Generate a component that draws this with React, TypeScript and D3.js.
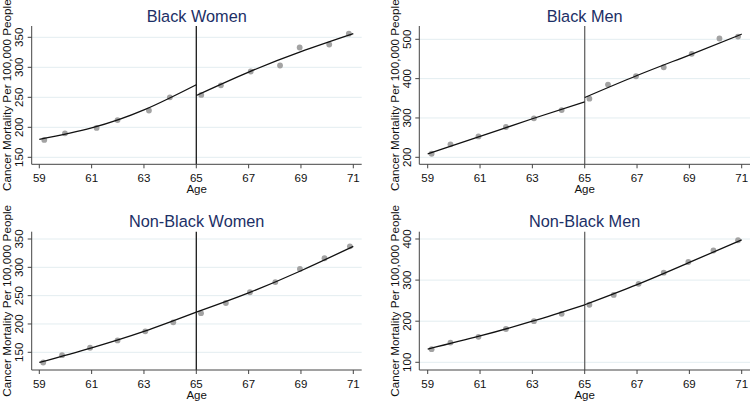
import React from "react";
import * as d3 from "d3";

// ---------- Data ----------
const xTicks = [59, 61, 63, 65, 67, 69, 71];
const cutoffAge = 65;

// Black Women
const bwAges = [59.19, 59.98, 61.19, 61.99, 63.19, 63.99, 65.19, 65.94, 67.08, 68.2, 68.95, 70.08, 70.83];
const bwRates = [179, 190, 199, 212, 228, 250, 254, 270, 293, 303, 333, 338, 356];
const bwFitLeft = [180, 199, 229, 271];
const bwFitRight = [253, 292, 326, 356];
const bwTicks = [150, 200, 250, 300, 350];

// Black Men
const bmAges = [59.15, 59.87, 60.94, 61.99, 63.06, 64.12, 65.18, 65.89, 66.96, 68.02, 69.09, 70.15, 70.86];
const bmRates = [209, 233, 253, 277, 299, 320, 349, 385, 406, 429, 463, 502, 507];
const bmFitLeft = [209, 253, 298, 341];
const bmFitRight = [352, 408, 460, 513];
const bmTicks = [200, 300, 400, 500];

// Non-Black Women
const nbwAges = [59.15, 59.87, 60.94, 61.99, 63.05, 64.12, 65.18, 66.13, 67.05, 68.02, 68.96, 69.9, 70.87];
const nbwRates = [132, 145, 158, 171, 187, 203, 219, 237, 256, 274, 297, 316, 337];
const nbwFitLeft = [132, 158, 187, 221];
const nbwFitRight = [221, 255, 294, 337];
const nbwTicks = [150, 200, 250, 300, 350];

// Non-Black Men
const nbmAges = [59.15, 59.87, 60.94, 61.99, 63.06, 64.12, 65.18, 66.11, 67.06, 68.02, 68.96, 69.92, 70.86];
const nbmRates = [132, 148, 162, 181, 200, 218, 240, 264, 291, 318, 344, 372, 397];
const nbmFitLeft = [132, 164, 200, 240];
const nbmFitRight = [240, 289, 343, 398];
const nbmTicks = [100, 200, 300, 400];

const fitAgesLeft = [59, 61, 63, 65];
const fitAgesRight = [65, 67, 69, 71];

const titles = ["Black Women", "Black Men", "Non-Black Women", "Non-Black Men"];
const yTitle = "Cancer Mortality Per 100,000 People";
const xTitle = "Age";

// ---------- Layout ----------
const FONT = "'Liberation Sans', Arial, Helvetica, sans-serif";
const cols = [
  { axisX: 31.7, x59: 39.3, x71: 353.3, right: 361.7 },
  { axisX: 419.3, x59: 427.7, x71: 741.7, right: 750 },
];
const rows = [
  { top: 26, axisY: 164.3 },
  { top: 231.7, axisY: 370 },
];
// pixel positions of the lowest and highest y ticks for each panel
const yTickPix = [
  [157.3, 37.3],
  [157.3, 39.3],
  [352.3, 239],
  [362.3, 239],
];

const panels = [
  { ages: bwAges, rates: bwRates, left: bwFitLeft, right: bwFitRight, ticks: bwTicks, col: 0, row: 0, vColor: "#1a1a1a" },
  { ages: bmAges, rates: bmRates, left: bmFitLeft, right: bmFitRight, ticks: bmTicks, col: 1, row: 0, vColor: "#666666" },
  { ages: nbwAges, rates: nbwRates, left: nbwFitLeft, right: nbwFitRight, ticks: nbwTicks, col: 0, row: 1, vColor: "#1a1a1a" },
  { ages: nbmAges, rates: nbmRates, left: nbmFitLeft, right: nbmFitRight, ticks: nbmTicks, col: 1, row: 1, vColor: "#666666" },
];

function Panel({ p, i }: { p: any; i: number }) {
  const c = cols[p.col];
  const r = rows[p.row];
  const x = d3.scaleLinear().domain([59, 71]).range([c.x59, c.x71]);
  const t = p.ticks;
  const y = d3
    .scaleLinear()
    .domain([t[0], t[t.length - 1]])
    .range([yTickPix[i][0], yTickPix[i][1]]);
  const line = d3
    .line<[number, number]>()
    .x((d) => x(d[0]))
    .y((d) => y(d[1]))
    .curve(d3.curveNatural);
  const leftPts: [number, number][] = fitAgesLeft.map((a, k) => [a, p.left[k]]);
  const rightPts: [number, number][] = fitAgesRight.map((a, k) => [a, p.right[k]]);
  const midX = (c.axisX + c.right) / 2;
  const midY = (r.top + r.axisY) / 2;
  return (
    <g>
      {/* grid */}
      {t.map((v: number) => (
        <line key={"g" + v} x1={c.axisX} x2={c.right} y1={y(v)} y2={y(v)} stroke="#e3edf0" strokeWidth={1} />
      ))}
      {/* cutoff line */}
      <line x1={x(cutoffAge)} x2={x(cutoffAge)} y1={r.top} y2={r.axisY} stroke={p.vColor} strokeWidth={1.3} />
      {/* points */}
      {p.ages.map((a: number, k: number) => (
        <circle key={"p" + k} cx={x(a)} cy={y(p.rates[k])} r={2.9} fill="#a3a3a3" />
      ))}
      {/* fits */}
      <path d={line(leftPts) || ""} fill="none" stroke="#111" strokeWidth={1.3} />
      <path d={line(rightPts) || ""} fill="none" stroke="#111" strokeWidth={1.3} />
      {/* axes */}
      <line x1={c.axisX} x2={c.axisX} y1={r.top} y2={r.axisY} stroke="#444" strokeWidth={1} />
      <line x1={c.axisX} x2={c.right} y1={r.axisY} y2={r.axisY} stroke="#444" strokeWidth={1} />
      {t.map((v: number) => (
        <g key={"yt" + v}>
          <line x1={c.axisX - 4} x2={c.axisX} y1={y(v)} y2={y(v)} stroke="#444" strokeWidth={1} />
          <text
            transform={`translate(${c.axisX - 8.3},${y(v)}) rotate(-90)`}
            textAnchor="middle"
            fontSize={11.5}
            fontFamily={FONT}
            fill="#111"
          >
            {v}
          </text>
        </g>
      ))}
      {xTicks.map((v) => (
        <g key={"xt" + v}>
          <line x1={x(v)} x2={x(v)} y1={r.axisY} y2={r.axisY + 4} stroke="#444" strokeWidth={1} />
          <text x={x(v)} y={r.axisY + 17.8} textAnchor="middle" fontSize={11.5} fontFamily={FONT} fill="#111">
            {v}
          </text>
        </g>
      ))}
      <text x={midX} y={r.axisY + 28.6} textAnchor="middle" fontSize={11.5} fontFamily={FONT} fill="#111">
        {xTitle}
      </text>
      <text
        transform={`translate(${c.axisX - 20.5},${midY}) rotate(-90)`}
        textAnchor="middle"
        fontSize={11.7}
        fontFamily={FONT}
        fill="#111"
      >
        {yTitle}
      </text>
      <text
        x={midX}
        y={r.top - 4.5}
        textAnchor="middle"
        fontSize={16.3}
        fontFamily={FONT}
        fill="#1c2f66"
      >
        {titles[i]}
      </text>
    </g>
  );
}

export default function App() {
  return (
    <svg
      width={750}
      height={402}
      style={{ position: "absolute", left: 0, top: 0, background: "#fff" }}
    >
      <rect width={750} height={402} fill="#fff" />
      {panels.map((p, i) => (
        <Panel key={i} p={p} i={i} />
      ))}
    </svg>
  );
}
